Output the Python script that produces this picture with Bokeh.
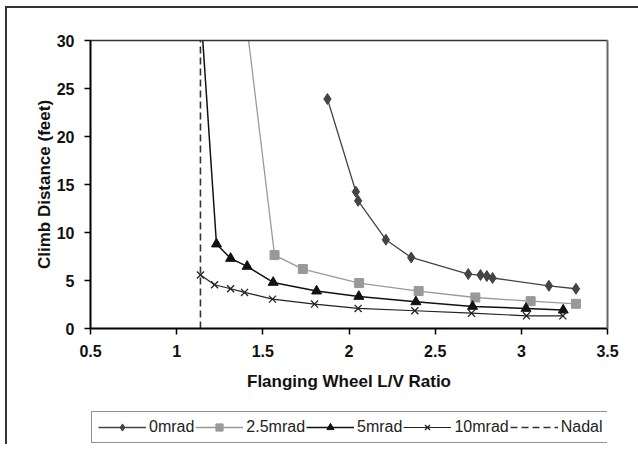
from bokeh.plotting import figure
from bokeh.layouts import column
from bokeh.models import Legend, LegendItem, FixedTicker, Range1d, LinearAxis
from bokeh.embed import file_html
from bokeh.resources import INLINE

# ---- data ----
x_0mrad = [1.875, 2.040, 2.053, 2.214, 2.361, 2.692, 2.763, 2.800, 2.833, 3.160, 3.317]
y_0mrad = [23.9, 14.25, 13.3, 9.25, 7.4, 5.67, 5.57, 5.46, 5.26, 4.45, 4.14]

x_2_5mrad = [1.404, 1.568, 1.732, 2.059, 2.404, 2.733, 3.054, 3.317]
y_2_5mrad = [32.0, 7.65, 6.19, 4.73, 3.90, 3.23, 2.85, 2.57]

x_5mrad = [1.150, 1.231, 1.313, 1.409, 1.560, 1.812, 2.057, 2.388, 2.717, 3.027, 3.243]
y_5mrad = [30.4, 8.8, 7.30, 6.47, 4.80, 3.90, 3.34, 2.78, 2.30, 2.09, 1.92]

x_10mrad = [1.138, 1.220, 1.313, 1.394, 1.556, 1.800, 2.053, 2.382, 2.711, 3.030, 3.241]
y_10mrad = [5.57, 4.56, 4.14, 3.76, 3.06, 2.54, 2.09, 1.85, 1.60, 1.32, 1.32]

x_nadal = [1.138, 1.138]
y_nadal = [0, 30]

x_ticks = [0.5, 1, 1.5, 2, 2.5, 3, 3.5]
y_ticks = [0, 5, 10, 15, 20, 25, 30]

series_labels = ["0mrad", "2.5mrad", "5mrad", "10mrad", "Nadal"]

FONT = "Liberation Sans"

c0 = "#444444"
c25 = "#999999"
c5 = "#111111"
c10 = "#222222"
cn = "#333333"


def draw_series(fig):
    l0 = fig.line(x_0mrad, y_0mrad, line_color=c0, line_width=1.3)
    m0 = fig.scatter(x_0mrad, y_0mrad, marker="diamond", size=11, fill_color=c0, line_color=c0)
    l25 = fig.line(x_2_5mrad, y_2_5mrad, line_color=c25, line_width=1.3)
    m25 = fig.scatter(x_2_5mrad, y_2_5mrad, marker="square", size=9, fill_color=c25, line_color=c25)
    l5 = fig.line(x_5mrad, y_5mrad, line_color=c5, line_width=1.5)
    m5 = fig.scatter(x_5mrad, y_5mrad, marker="triangle", size=10, fill_color=c5, line_color=c5)
    l10 = fig.line(x_10mrad, y_10mrad, line_color=c10, line_width=1.2)
    m10 = fig.scatter(x_10mrad, y_10mrad, marker="x", size=10, line_color=c10, line_width=1.3)
    ln = fig.line(x_nadal, y_nadal, line_color=cn, line_width=1.6, line_dash="7 4")
    return [[l0, m0], [l25, m25], [l5, m5], [l10, m10], [ln]]


# ---- main chart ----
p = figure(frame_width=517, frame_height=288,
           min_border_left=83, min_border_right=31,
           min_border_top=32, min_border_bottom=80,
           x_range=Range1d(0.5, 3.5), y_range=Range1d(0, 30),
           output_backend="svg", toolbar_location=None)

p.background_fill_color = "white"
p.border_fill_color = "white"
p.xgrid.visible = False
p.ygrid.visible = False
p.outline_line_color = None

for ax, ticks in ((p.xaxis[0], x_ticks), (p.yaxis[0], y_ticks)):
    ax.ticker = FixedTicker(ticks=ticks)
    ax.axis_line_color = "black"
    ax.axis_line_width = 2
    ax.major_tick_line_color = "black"
    ax.major_tick_line_width = 1.5
    ax.major_tick_out = 6
    ax.major_tick_in = 0
    ax.minor_tick_line_color = None
    ax.major_label_text_font = FONT
    ax.major_label_text_font_style = "bold"
    ax.major_label_text_font_size = "16px"
    ax.major_label_text_color = "#111111"
    ax.axis_label_text_font = FONT
    ax.axis_label_text_font_style = "bold"
    ax.axis_label_text_font_size = "17px"
    ax.axis_label_text_color = "#111111"

p.xaxis[0].axis_label = "Flanging Wheel L/V Ratio"
p.yaxis[0].axis_label = "Climb Distance (feet)"
p.xaxis[0].major_label_standoff = 10
p.xaxis[0].axis_label_standoff = 12
p.yaxis[0].major_label_standoff = 10
p.yaxis[0].axis_label_standoff = 0

# frame border on top and right: bare axes
top_ax = LinearAxis(axis_line_color="#333333", axis_line_width=1.5,
                    major_tick_line_color=None, minor_tick_line_color=None,
                    major_label_text_font_size="0px", ticker=FixedTicker(ticks=[]))
right_ax = LinearAxis(axis_line_color="#666666", axis_line_width=2,
                      major_tick_line_color=None, minor_tick_line_color=None,
                      major_label_text_font_size="0px", ticker=FixedTicker(ticks=[]))
p.add_layout(top_ax, "above")
p.add_layout(right_ax, "right")

draw_series(p)

# ---- legend strip (same series, drawn outside its visible ranges) ----
p2 = figure(width=631, height=36, min_border=0,
            x_range=Range1d(100, 101), y_range=Range1d(100, 101),
            x_axis_location=None, y_axis_location=None,
            output_backend="svg", toolbar_location=None)
p2.xgrid.visible = False
p2.ygrid.visible = False
p2.outline_line_color = None
p2.background_fill_color = "white"
p2.border_fill_color = "white"

groups = draw_series(p2)
legend = Legend(items=[LegendItem(label=lab, renderers=rs)
                       for lab, rs in zip(series_labels, groups)],
                orientation="horizontal", location=(1, 1))
legend.label_text_font = FONT
legend.label_text_font_size = "16px"
legend.label_text_color = "#222222"
legend.glyph_width = 48
legend.glyph_height = 18
legend.label_standoff = 3
legend.spacing = 1
legend.padding = 6
legend.margin = 0
legend.border_line_color = "#222222"
legend.border_line_width = 1.5
legend.background_fill_color = "white"
legend.background_fill_alpha = 1.0
p2.add_layout(legend, "center")

layout = column(p, p2, spacing=0,
                styles={"margin-left": "5px", "margin-top": "6px",
                        "border-left": "2px solid #333333",
                        "border-top": "2px solid #333333"})

open("out.html", "w").write(file_html(layout, INLINE))
